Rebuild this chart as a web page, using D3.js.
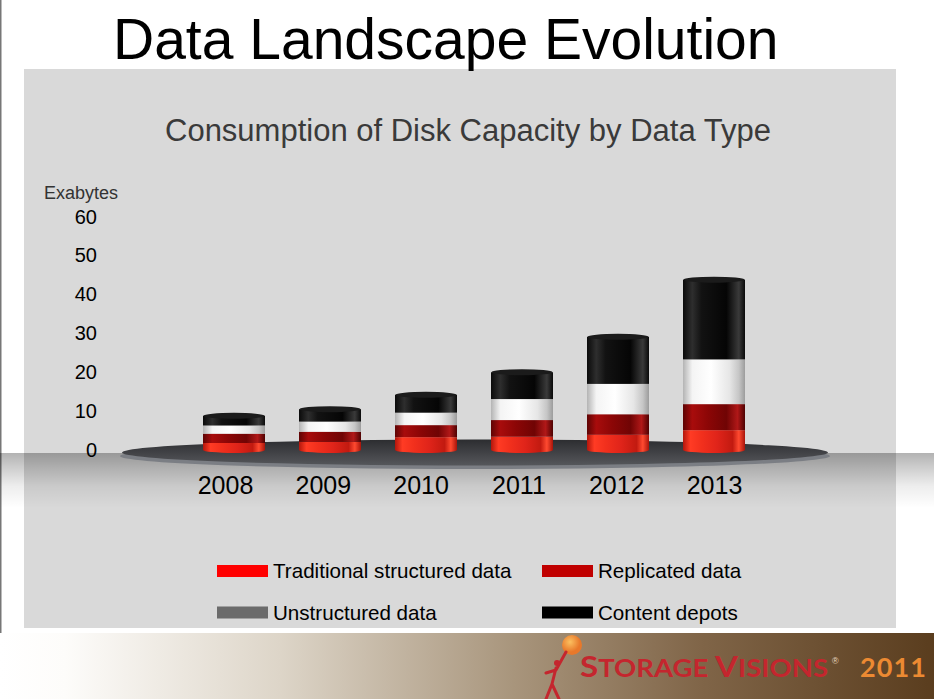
<!DOCTYPE html>
<html>
<head>
<meta charset="utf-8">
<script src="https://cdn.jsdelivr.net/npm/d3@7"></script>
<style>
body { margin: 0; background: #fff; }
svg { display: block; font-family: "Liberation Sans", Arial, sans-serif; }
</style>
</head>
<body>
<div id="chart"></div>
<script>
// data (Exabytes)
var years = ["2008", "2009", "2010", "2011", "2012", "2013"];
var traditional = [1.8, 2.1, 3.3, 3.4, 3.9, 5.1];
var replicated = [2.4, 2.6, 3.1, 4.3, 5.3, 6.7];
var unstructured = [2.1, 2.6, 3.2, 5.4, 7.8, 11.5];
var contentDepots = [2.5, 3.2, 4.6, 6.9, 12.1, 20.5];
var seriesNames = ["Traditional structured data", "Replicated data", "Unstructured data", "Content depots"];
var yTicks = [0, 10, 20, 30, 40, 50, 60];

var w = 934, h = 699;
var barW = 62, capRy = 3;

var legendColors = ["#ff0000", "#c00000", "#6b6b6b", "#000000"];
// glossy cylinder look, one horizontal gradient per series
var barStops = [
	[[0, "#b3160c"], [0.12, "#ff3b24"], [0.3, "#f2301d"], [0.55, "#e0241a"], [0.8, "#c21a10"], [0.9, "#ff4a30"], [1, "#a8140a"]],
	[[0, "#5e0404"], [0.15, "#a80c0c"], [0.4, "#8c0606"], [0.7, "#700404"], [0.88, "#b01818"], [1, "#4e0202"]],
	[[0, "#b4b4b4"], [0.15, "#f4f4f4"], [0.45, "#ffffff"], [0.75, "#e6e6e6"], [0.9, "#c6c6c6"], [1, "#9c9c9c"]],
	[[0, "#0a0a0a"], [0.15, "#2e2e2e"], [0.3, "#121212"], [0.7, "#050505"], [0.9, "#3a3a3a"], [1, "#0a0a0a"]]
];

var table = years.map(function(y, i) {
	return { year: y, s0: traditional[i], s1: replicated[i], s2: unstructured[i], s3: contentDepots[i] };
});
var stack = d3.stack().keys(["s0", "s1", "s2", "s3"])(table);

var svg = d3.select("#chart")
			.append("svg")
			.attr("width", w)
			.attr("height", h);

var defs = svg.append("defs");

function linGrad(id, stops, vertical) {
	var g = defs.append("linearGradient").attr("id", id)
		.attr("x1", 0).attr("y1", 0)
		.attr("x2", vertical ? 0 : 1).attr("y2", vertical ? 1 : 0);
	stops.forEach(function(s) {
		g.append("stop").attr("offset", s[0]).attr("stop-color", s[1])
			.attr("stop-opacity", s.length > 2 ? s[2] : 1);
	});
}
barStops.forEach(function(s, i) { linGrad("bar" + i, s, false); });
linGrad("band", [[0, "#000", 0.3], [0.25, "#000", 0.2], [0.6, "#000", 0.07], [1, "#000", 0]], true);
linGrad("plate", [[0, "#2c2d30"], [0.6, "#45464a"], [1, "#55575b"]], true);
linGrad("banner", [[0, "#ffffff"], [0.07, "#fdfcfa"], [0.3, "#ddd5c8"], [0.55, "#a8957c"], [0.75, "#806548"], [1, "#5a3d1e"]], false);
var sun = defs.append("radialGradient").attr("id", "sun").attr("cx", 0.4).attr("cy", 0.35);
sun.append("stop").attr("offset", 0).attr("stop-color", "#fbc060");
sun.append("stop").attr("offset", 1).attr("stop-color", "#e8782a");

// background pieces
svg.append("rect").attr("x", 0).attr("y", 0).attr("width", 1.5).attr("height", h).attr("fill", "#777");
svg.append("rect").attr("x", 24).attr("y", 69).attr("width", 872).attr("height", 559).attr("fill", "#d9d9d9");

// scales
var y = d3.scaleLinear().domain([0, 60]).range([450, 216.7]);
var xBar = d3.scalePoint().domain(years).range([234, 714]);
var xLab = d3.scalePoint().domain(years).range([225, 714]);

// floor band and platform
svg.append("rect").attr("x", 0).attr("y", 453).attr("width", w).attr("height", 55).attr("fill", "url(#band)");
svg.append("ellipse").attr("cx", 475).attr("cy", 456).attr("rx", 355).attr("ry", 13).attr("fill", "#7b7e84");
svg.append("ellipse").attr("cx", 475).attr("cy", 452.5).attr("rx", 353).attr("ry", 13).attr("fill", "url(#plate)");

// cylinders
var bars = svg.append("g");
bars.selectAll("ellipse.base")
	.data(stack[0])
	.enter()
	.append("ellipse")
	.attr("class", "base")
	.attr("cx", function(d) { return xBar(d.data.year); })
	.attr("cy", function(d) { return y(d[0]); })
	.attr("rx", barW / 2)
	.attr("ry", capRy)
	.attr("fill", "url(#bar0)");

bars.selectAll("g.series")
	.data(stack)
	.enter()
	.append("g")
	.attr("class", "series")
	.attr("fill", function(d, i) { return "url(#bar" + i + ")"; })
	.selectAll("rect")
	.data(function(d) { return d; })
	.enter()
	.append("rect")
	.attr("x", function(d) { return xBar(d.data.year) - barW / 2; })
	.attr("y", function(d) { return y(d[1]); })
	.attr("width", barW)
	.attr("height", function(d) { return y(d[0]) - y(d[1]); });

bars.selectAll("ellipse.cap")
	.data(stack[3])
	.enter()
	.append("ellipse")
	.attr("class", "cap")
	.attr("cx", function(d) { return xBar(d.data.year); })
	.attr("cy", function(d) { return y(d[1]); })
	.attr("rx", barW / 2 - 0.5)
	.attr("ry", capRy)
	.attr("fill", "#1b1b1b");

// axes
var yAxis = svg.append("g")
	.attr("transform", "translate(97,0)")
	.call(d3.axisLeft(y).tickValues(yTicks).tickSize(0).tickPadding(0));
yAxis.select(".domain").remove();
yAxis.selectAll("text").attr("font-size", "20px").attr("fill", "#000")
	.attr("font-family", "Liberation Sans, Arial, sans-serif");

var xAxis = svg.append("g")
	.attr("transform", "translate(0,476)")
	.call(d3.axisBottom(xLab).tickSize(0).tickPadding(0));
xAxis.select(".domain").remove();
xAxis.selectAll("text").attr("font-size", "25px").attr("fill", "#000")
	.attr("font-family", "Liberation Sans, Arial, sans-serif");

svg.append("text").attr("x", 44).attr("y", 199).attr("font-size", "18px").attr("fill", "#333")
	.text("Exabytes");

// titles
svg.append("text").attr("x", 113).attr("y", 59).attr("font-size", "57px").attr("fill", "#000")
	.text("Data Landscape Evolution");
svg.append("text").attr("x", 165).attr("y", 141).attr("font-size", "31px").attr("fill", "#3a3a3a")
	.text("Consumption of Disk Capacity by Data Type");

// legend
var legend = svg.selectAll("g.legend")
	.data(seriesNames)
	.enter()
	.append("g")
	.attr("class", "legend")
	.attr("transform", function(d, i) {
		return "translate(" + (i % 2 ? 542 : 217) + "," + (i < 2 ? 578 : 619.5) + ")";
	});
legend.append("rect").attr("x", 0).attr("y", -13).attr("width", 51).attr("height", 12)
	.attr("fill", function(d, i) { return legendColors[i]; });
legend.append("text").attr("x", 56).attr("y", 0).attr("font-size", "20.6px").attr("fill", "#000")
	.text(function(d) { return d; });

// footer banner
svg.append("rect").attr("x", 0).attr("y", 633).attr("width", w).attr("height", 66).attr("fill", "url(#banner)");
svg.append("circle").attr("cx", 572).attr("cy", 645).attr("r", 10).attr("fill", "url(#sun)");
var man = svg.append("g").attr("stroke", "#c4262e").attr("stroke-width", 3).attr("fill", "none")
	.attr("stroke-linecap", "round");
man.append("path").attr("d", "M556,668 L552,684 M546,673 L556,670 L566,652 M552,684 L546,699 M552,684 L559,699");
man.append("circle").attr("cx", 557).attr("cy", 663).attr("r", 3).attr("fill", "#c4262e").attr("stroke", "none");

var brand = svg.append("text").attr("x", 580).attr("y", 677).attr("fill", "#c4262e")
	.attr("font-family", "Lato, 'Open Sans', sans-serif").attr("font-weight", "bold")
	.attr("textLength", 248).attr("lengthAdjust", "spacingAndGlyphs");
brand.append("tspan").attr("font-size", "29px").text("S");
brand.append("tspan").attr("font-size", "24px").text("TORAGE ");
brand.append("tspan").attr("font-size", "29px").text("V");
brand.append("tspan").attr("font-size", "24px").text("ISIONS");
svg.append("text").attr("x", 832).attr("y", 664).attr("font-size", "9px").attr("fill", "#e8d8c0")
	.text("®");
svg.append("text").attr("x", 860).attr("y", 677).attr("fill", "#ec8a32")
	.attr("font-family", "Lato, 'Open Sans', sans-serif").attr("font-weight", "bold")
	.attr("font-size", "27px").attr("textLength", 66).attr("lengthAdjust", "spacing")
	.text("2011");
</script>
</body>
</html>
